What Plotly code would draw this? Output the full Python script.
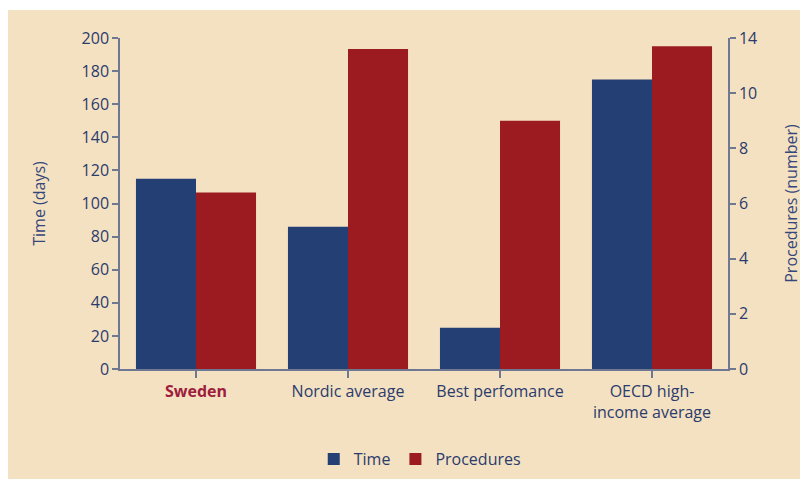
import plotly.graph_objects as go

categories = ["Sweden", "Nordic average", "Best perfomance", "OECD high-income average"]
tick_labels = ["<b><span style='color:#9e1c3c'>Sweden</span></b>", "Nordic average",
               "Best perfomance", "OECD high-<br>income average"]
time_days = [115, 86, 25, 175]
procedures = [6.4, 11.6, 9.0, 11.7]
left_ticks = [0, 20, 40, 60, 80, 100, 120, 140, 160, 180, 200]
right_tickvals = [0, 2, 4, 6, 8, 10, 12]
right_ticktext = ["0", "2", "4", "6", "8", "10", "14"]

BLUE = "#243f73"
RED = "#9b1b20"
TEXT = "#2b3b6c"
AXIS = "#6f7893"
BG = "#f4e1c2"

x_idx = list(range(len(categories)))

fig = go.Figure()
fig.add_trace(go.Bar(x=x_idx, y=time_days, name="Time", marker_color=BLUE,
                     marker_line_width=0, width=0.395, offset=-0.395, yaxis="y"))
fig.add_trace(go.Bar(x=x_idx, y=procedures, name="Procedures", marker_color=RED,
                     marker_line_width=0, width=0.395, offset=0.0, yaxis="y2"))

font_family = "Open Sans"

# page body adds 8px offset; figure is sized so that it fills the 808x479 window
fig.update_layout(
    width=800, height=471,
    margin=dict(l=112, r=80, t=30, b=110, autoexpand=False),
    paper_bgcolor=BG,
    plot_bgcolor="rgba(0,0,0,0)",
    font=dict(family=font_family, size=16, color=TEXT),
    barmode="overlay",
    showlegend=True,
    legend=dict(orientation="h", x=0.493, xanchor="center", y=-0.272, yanchor="middle",
                font=dict(size=16, color=TEXT), bgcolor="rgba(0,0,0,0)",
                itemwidth=30, tracegroupgap=0),
    xaxis=dict(
        range=[-0.5, 3.5], tickmode="array", tickvals=x_idx, ticktext=tick_labels,
        showline=True, linecolor=AXIS, linewidth=2, showgrid=False, zeroline=False,
        ticks="outside", tickson="boundaries", ticklen=7, tickwidth=1.5, tickcolor=AXIS,
        tickfont=dict(size=16, color=TEXT), type="linear", automargin=False,
    ),
    yaxis=dict(
        range=[0, 200], tickmode="array", tickvals=left_ticks,
        showline=True, linecolor=AXIS, linewidth=1.5, showgrid=False, zeroline=False,
        ticks="outside", ticklen=6, tickwidth=1.5, tickcolor=AXIS,
        tickfont=dict(size=16, color=TEXT), automargin=False,
        title=dict(text="Time (days)", font=dict(size=16, color="#34477a"), standoff=32),
    ),
    yaxis2=dict(
        range=[0, 12], tickmode="array", tickvals=right_tickvals, ticktext=right_ticktext,
        overlaying="y", side="right",
        showline=True, linecolor=AXIS, linewidth=1.5, showgrid=False, zeroline=False,
        ticks="outside", ticklen=6, tickwidth=1.5, tickcolor=AXIS,
        tickfont=dict(size=16, color=TEXT), automargin=False,
        title=dict(text="Procedures (number)", font=dict(size=16, color="#34477a"), standoff=30),
    ),
    shapes=[dict(type="rect", xref="paper", yref="paper",
                 x0=-0.3, x1=1.3, y0=(361 - 2) / 331, y1=1.5,
                 fillcolor="white", line=dict(width=0), layer="below")],
)

fig.write_html("out.html")
